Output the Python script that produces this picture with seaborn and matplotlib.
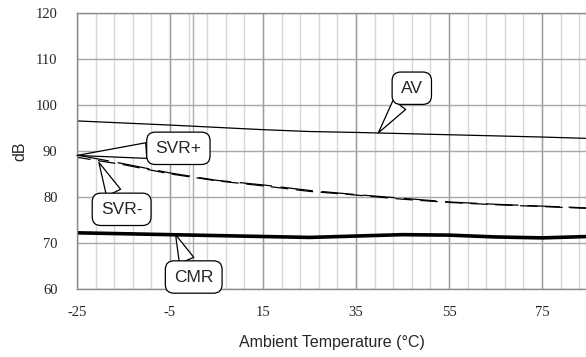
import matplotlib
matplotlib.use("Agg")
import matplotlib.pyplot as plt
import seaborn as sns
import numpy as np

# ---- data ----
av_temp = [-25, -5, 15, 25, 35, 55, 75, 85]
av_db = [96.5, 95.6, 94.6, 94.2, 94.0, 93.5, 93.0, 92.7]

svr_temp = [-25, -15, -5, 5, 15, 25, 35, 45, 55, 65, 75, 85]
svr_plus_db = [89.1, 87.2, 85.2, 83.6, 82.6, 81.4, 80.5, 79.7, 78.9, 78.4, 78.0, 77.6]
svr_minus_db = [88.6, 87.0, 85.0, 83.5, 82.4, 81.2, 80.4, 79.5, 78.8, 78.3, 77.9, 77.5]

cmr_temp = [-25, -15, -5, 5, 15, 25, 35, 45, 55, 65, 75, 85]
cmr_db = [72.2, 72.0, 71.8, 71.6, 71.4, 71.2, 71.5, 71.8, 71.7, 71.3, 71.1, 71.4]

x_ticks = [-25, -5, 15, 35, 55, 75]
y_ticks = [60, 70, 80, 90, 100, 110, 120]
x_label = "Ambient Temperature (°C)"
y_label = "dB"

sns.set_style("white")
plt.rcParams["font.family"] = ["Liberation Sans", "DejaVu Sans"]
plt.rcParams["axes.unicode_minus"] = False

fig = plt.figure(figsize=(5.86, 3.57), dpi=100)
ax = fig.add_axes([0.1314, 0.1905, 0.8686, 0.7739])

xmax = -25 + 509 / 4.65
ax.set_xlim(-25, xmax)
ax.set_ylim(60, 120)

# grid
for xv in np.arange(-25, xmax, 4):
    ax.axvline(xv, color="#d6d6d6", lw=1.0, zorder=0)
for xv in x_ticks:
    ax.axvline(xv, color="#9c9c9c", lw=1.0, zorder=0.5)
ax.axvline(0, color="#adadad", lw=1.0, zorder=0.5)
for yv in y_ticks:
    ax.axhline(yv, color="#a8a8a8", lw=1.0, zorder=0.5)

# series
sns.lineplot(x=av_temp, y=av_db, ax=ax, color="black", linewidth=0.9)
sns.lineplot(x=svr_temp, y=svr_plus_db, ax=ax, color="black", linewidth=0.9,
             linestyle=(0, (26, 7)))
sns.lineplot(x=svr_temp, y=svr_minus_db, ax=ax, color="black", linewidth=0.9,
             linestyle=(3, (14, 6)))
sns.lineplot(x=cmr_temp, y=cmr_db, ax=ax, color="black", linewidth=2.6)

# axes styling
ax.set_xticks(x_ticks)
ax.set_yticks(y_ticks)
ax.tick_params(axis="both", length=0, labelsize=10.5, pad=12)
ax.tick_params(axis="y", pad=14)
for lab in ax.get_xticklabels() + ax.get_yticklabels():
    lab.set_fontfamily("Liberation Serif")
for s in ["left", "bottom", "top"]:
    ax.spines[s].set_color("#8a8a8a")
    ax.spines[s].set_linewidth(1.0)
ax.spines["right"].set_visible(False)

ax.set_xlabel(x_label, fontsize=11.5)
ax.set_ylabel(y_label, fontsize=11.5)
ax.xaxis.set_label_coords(0.5, -0.165)
ax.yaxis.set_label_coords(-0.097, 0.5)

# callouts
def callout(text, xy, xytext):
    ax.annotate(text, xy=xy, xytext=xytext, textcoords="data",
                ha="center", va="center", fontsize=12.5,
                bbox=dict(boxstyle="round,pad=0.5,rounding_size=0.5",
                          fc="white", ec="black", lw=0.9),
                arrowprops=dict(arrowstyle="wedge,tail_width=0.9",
                                fc="white", ec="black", lw=0.9,
                                shrinkA=0, shrinkB=0),
                zorder=5)

callout("AV", (39.8, 93.9), (47.0, 103.6))
callout("SVR+", (-25, 89.0), (-3.2, 90.55))
callout("SVR-", (-20.3, 87.5), (-15.4, 77.3))
callout("CMR", (-3.8, 71.8), (0.1, 62.6))

fig.savefig("out.png", dpi=100)
